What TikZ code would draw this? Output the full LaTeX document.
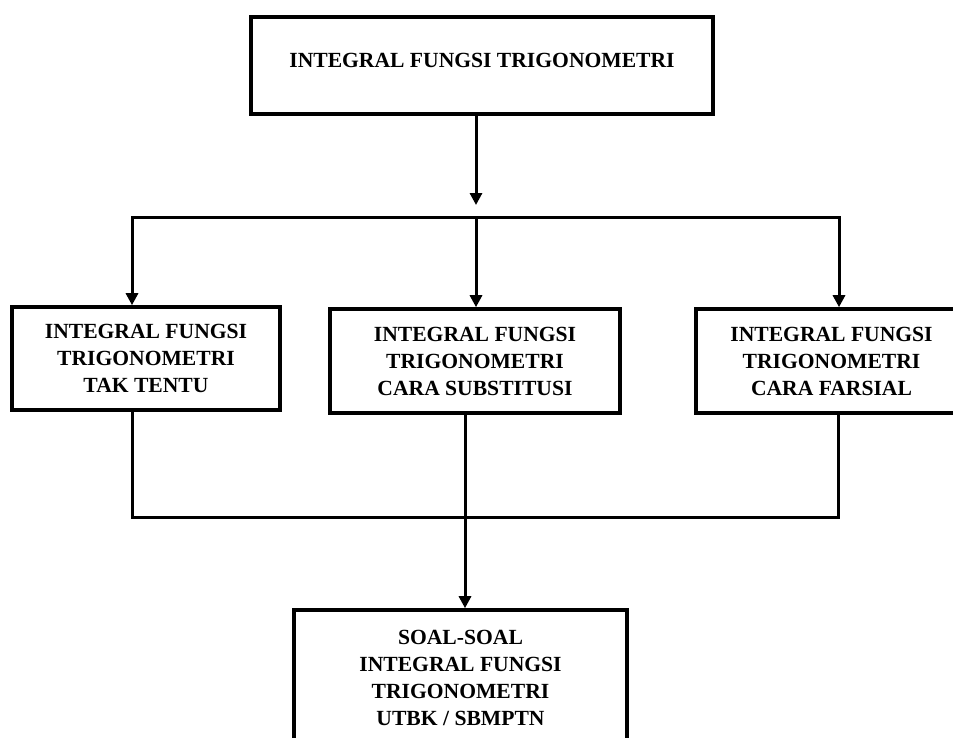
\documentclass[tikz,border=0pt]{standalone}
\usepackage{fontspec}
\setmainfont{Liberation Serif}
\usetikzlibrary{arrows.meta}
\tikzset{
  boxstyle/.style={draw=black, line width=3.6pt, fill=white, inner sep=0pt, align=center,
    font=\bfseries\fontsize{21.6}{27}\selectfont},
  conn/.style={line width=3pt, line cap=rect},
  arr/.style={line width=3pt, -{Triangle[width=12pt,length=12pt]}}
}
\begin{document}
\begin{tikzpicture}[x=1pt,y=-1pt]
\useasboundingbox (0,0) rectangle (953,737);
\clip (0,0) rectangle (953,737);
\node[boxstyle, minimum width=462pt, minimum height=97pt, text height=14pt, text depth=11pt] (top) at (482,65.5) {INTEGRAL FUNGSI TRIGONOMETRI};
\node[boxstyle, minimum width=268pt, minimum height=103pt] (left) at (146,358.5) {INTEGRAL FUNGSI\\TRIGONOMETRI\\TAK TENTU};
\node[boxstyle, minimum width=290pt, minimum height=104pt] (mid) at (475,361) {INTEGRAL FUNGSI\\TRIGONOMETRI\\CARA SUBSTITUSI};
\node[boxstyle, minimum width=271pt, minimum height=104pt] (right) at (831.5,361) {INTEGRAL FUNGSI\\TRIGONOMETRI\\CARA FARSIAL};
\node[boxstyle, minimum width=333pt, minimum height=136pt] (bot) at (460.5,678) {SOAL-SOAL\\INTEGRAL FUNGSI\\TRIGONOMETRI\\UTBK / SBMPTN};

\coordinate (ta) at (476,205);
\coordinate (hl) at (132,217);
\coordinate (hm) at (476,217);
\coordinate (hr) at (839,217);
\coordinate (bl) at (132,517);
\coordinate (bm) at (465,517);
\coordinate (br) at (838,517);

\draw[arr] (top.south -| ta) -- (ta);
\draw[conn] (hl) -- (hr);
\draw[arr] (hl) -- (hl |- left.north);
\draw[arr] (hm) -- (hm |- mid.north);
\draw[arr] (hr) -- (hr |- right.north);

\draw[conn] (bl |- left.south) -- (bl) -- (br) -- (br |- right.south);
\draw[conn] (bm |- mid.south) -- (bm);
\draw[arr] (bm) -- (bm |- bot.north);
\end{tikzpicture}
\end{document}
